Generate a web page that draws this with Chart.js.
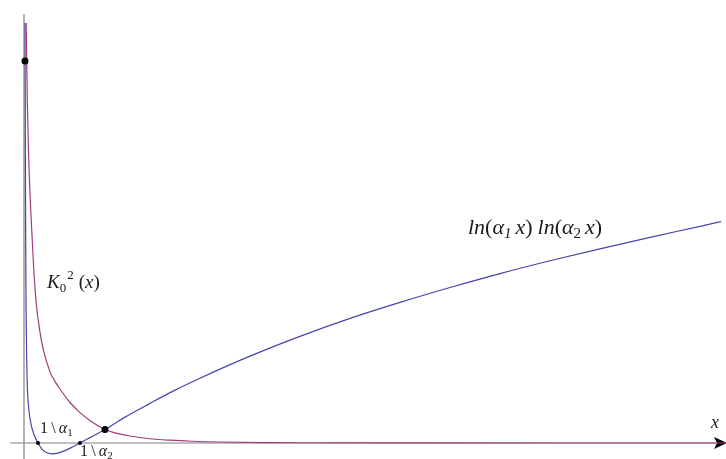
<!DOCTYPE html>
<html>
<head>
<meta charset="utf-8">
<script src="https://cdn.jsdelivr.net/npm/chart.js@4.4.0/dist/chart.umd.min.js"></script>
<style>
    html, body { margin: 0; padding: 0; background: #fff; }
    #wrap { width: 726px; height: 459px; }
</style>
</head>
<body>
<div id="wrap"><canvas id="plot" width="726" height="459"></canvas></div>
<script>
// Values. Plot units: 1/alpha1 = 1 on x.
const besselX = [0.157, 0.179, 0.236, 0.321, 0.464, 0.664, 0.857, 1.143, 1.379, 1.857, 2.214, 2.571, 3.286, 4.0, 4.714, 5.786, 6.5, 7.571, 9.0, 10.43, 12.0, 14.0, 17.0, 19.71, 26.86, 50.2];
const besselY = [18.67, 17.51, 15.2, 12.98, 10.58, 8.09, 6.31, 4.93, 4.15, 3.16, 2.74, 2.4, 1.8, 1.35, 1.0, 0.6, 0.45, 0.31, 0.19, 0.125, 0.078, 0.045, 0.02, 0.01, 0.002, 0];

const logX = [0.071, 0.093, 0.114, 0.143, 0.193, 0.25, 0.357, 0.5, 0.714, 1.0, 1.286, 1.571, 2.0, 2.429, 2.929, 3.429, 4.0, 4.714, 5.786, 7.214, 9.0, 10.79, 12.57, 16.14, 19.71, 23.29, 26.86, 30.43, 34.0, 37.57, 41.14, 44.71, 48.29, 49.79];
const logY = [18.67, 14.31, 9.87, 6.31, 3.64, 2.31, 1.42, 0.84, 0.38, 0, -0.27, -0.41, -0.48, -0.45, -0.34, -0.19, 0, 0.24, 0.6, 1.15, 1.76, 2.35, 2.88, 3.86, 4.74, 5.54, 6.25, 6.91, 7.53, 8.10, 8.63, 9.14, 9.63, 9.84];

// marked points: value on the y axis, crossing point, and the two roots
const bigDotX = [0.07, 5.786];
const bigDotY = [16.98, 0.6];
const rootX = [1.0, 4.0];
const rootY = [0, 0];

(function () {
    const BLUE = '#4545ae';
    const PURPLE = '#a03c76';
    const SERIF = '"Liberation Serif", "Times New Roman", serif';

    /** @param {number[]} xs @param {number[]} ys */
    function toPoints(xs, ys) {
        return xs.map((x, i) => ({ x: x, y: ys[i] }));
    }

    /** draws a run of text pieces one after the other */
    function drawRuns(ctx, x, y, runs) {
        runs.forEach(r => {
            ctx.font = r.font;
            ctx.fillText(r.text, x, y + (r.dy || 0));
            x += ctx.measureText(r.text).width + (r.gap || 0);
        });
    }

    const axesPlugin = {
        id: 'axes',
        beforeDatasetsDraw(chart) {
            const ctx = chart.ctx;
            const x0 = chart.scales.x.getPixelForValue(0);
            const y0 = chart.scales.y.getPixelForValue(0);
            ctx.save();
            ctx.strokeStyle = '#808080';
            ctx.lineWidth = 1.2;
            ctx.beginPath();
            ctx.moveTo(x0, 14);
            ctx.lineTo(x0, chart.height);
            ctx.moveTo(10, y0);
            ctx.lineTo(716, y0);
            ctx.stroke();
            ctx.fillStyle = '#000';
            ctx.beginPath();
            ctx.moveTo(727, y0);
            ctx.lineTo(714, y0 - 6);
            ctx.lineTo(717, y0);
            ctx.lineTo(714, y0 + 6);
            ctx.closePath();
            ctx.fill();
            ctx.restore();
        }
    };

    const labelsPlugin = {
        id: 'labels',
        afterDatasetsDraw(chart) {
            const ctx = chart.ctx;
            const big = 'italic 19px ' + SERIF;
            const up = '19px ' + SERIF;
            const sub = '13px ' + SERIF;
            const lnI = 'italic 22px ' + SERIF;
            const lnU = '22px ' + SERIF;
            const lnSubI = 'italic 15px ' + SERIF;
            const lnSub = '15px ' + SERIF;
            const small = '16px ' + SERIF;
            const smallI = 'italic 16px ' + SERIF;
            const tiny = '11px ' + SERIF;
            ctx.save();
            ctx.fillStyle = '#1a1a1a';
            ctx.textBaseline = 'alphabetic';

            drawRuns(ctx, 47, 288, [
                { text: 'K', font: big },
                { text: '0', font: sub, dy: 4, gap: 1 },
                { text: '2', font: sub, dy: -9, gap: 5 },
                { text: '(', font: up },
                { text: 'x', font: big },
                { text: ')', font: up }
            ]);

            drawRuns(ctx, 468, 234, [
                { text: 'ln', font: lnI },
                { text: '(', font: lnU },
                { text: '\u03b1', font: lnI },
                { text: '1', font: lnSubI, dy: 4, gap: 4 },
                { text: 'x', font: lnI },
                { text: ')', font: lnU, gap: 5 },
                { text: 'ln', font: lnI },
                { text: '(', font: lnU },
                { text: '\u03b1', font: lnI },
                { text: '2', font: lnSub, dy: 4, gap: 4 },
                { text: 'x', font: lnI },
                { text: ')', font: lnU }
            ]);

            ctx.font = 'italic 18px ' + SERIF;
            ctx.fillText('x', 711, 428);

            drawRuns(ctx, 40, 433, [
                { text: '1\u2009\\\u2009', font: small },
                { text: '\u03b1', font: smallI },
                { text: '1', font: tiny, dy: 3 }
            ]);
            drawRuns(ctx, 80, 456, [
                { text: '1\u2009\\\u2009', font: small },
                { text: '\u03b1', font: smallI },
                { text: '2', font: tiny, dy: 3 }
            ]);
            ctx.restore();
        }
    };

    function init() {
        const canvas = document.getElementById('plot');
        // @ts-ignore - Chart is loaded globally
        if (!canvas || typeof Chart === 'undefined') return;

        // 14 px per x unit, 22.5 px per y unit, origin at (24, 443)
        const xMin = -24 / 14, xMax = 702 / 14;
        const yMax = 443 / 22.5, yMin = -16 / 22.5;

        // @ts-ignore
        new Chart(canvas, {
            type: 'scatter',
            data: {
                datasets: [
                    {
                        data: toPoints(bigDotX, bigDotY),
                        pointRadius: 3.5,
                        pointBackgroundColor: '#000',
                        pointBorderWidth: 0,
                        showLine: false,
                        order: 0
                    },
                    {
                        data: toPoints(rootX, rootY),
                        pointRadius: 2,
                        pointBackgroundColor: '#000',
                        pointBorderWidth: 0,
                        showLine: false,
                        order: 0
                    },
                    {
                        data: toPoints(logX, logY),
                        showLine: true,
                        borderColor: BLUE,
                        borderWidth: 1.2,
                        pointRadius: 0,
                        cubicInterpolationMode: 'monotone',
                        order: 1
                    },
                    {
                        data: toPoints(besselX, besselY),
                        showLine: true,
                        borderColor: PURPLE,
                        borderWidth: 1.2,
                        pointRadius: 0,
                        cubicInterpolationMode: 'monotone',
                        order: 2
                    }
                ]
            },
            options: {
                responsive: false,
                animation: false,
                events: [],
                layout: { padding: 0, autoPadding: false },
                plugins: { legend: { display: false }, tooltip: { enabled: false } },
                scales: {
                    x: { type: 'linear', display: false, min: xMin, max: xMax },
                    y: { type: 'linear', display: false, min: yMin, max: yMax }
                }
            },
            plugins: [axesPlugin, labelsPlugin]
        });
    }

    init();
})();
</script>
</body>
</html>
